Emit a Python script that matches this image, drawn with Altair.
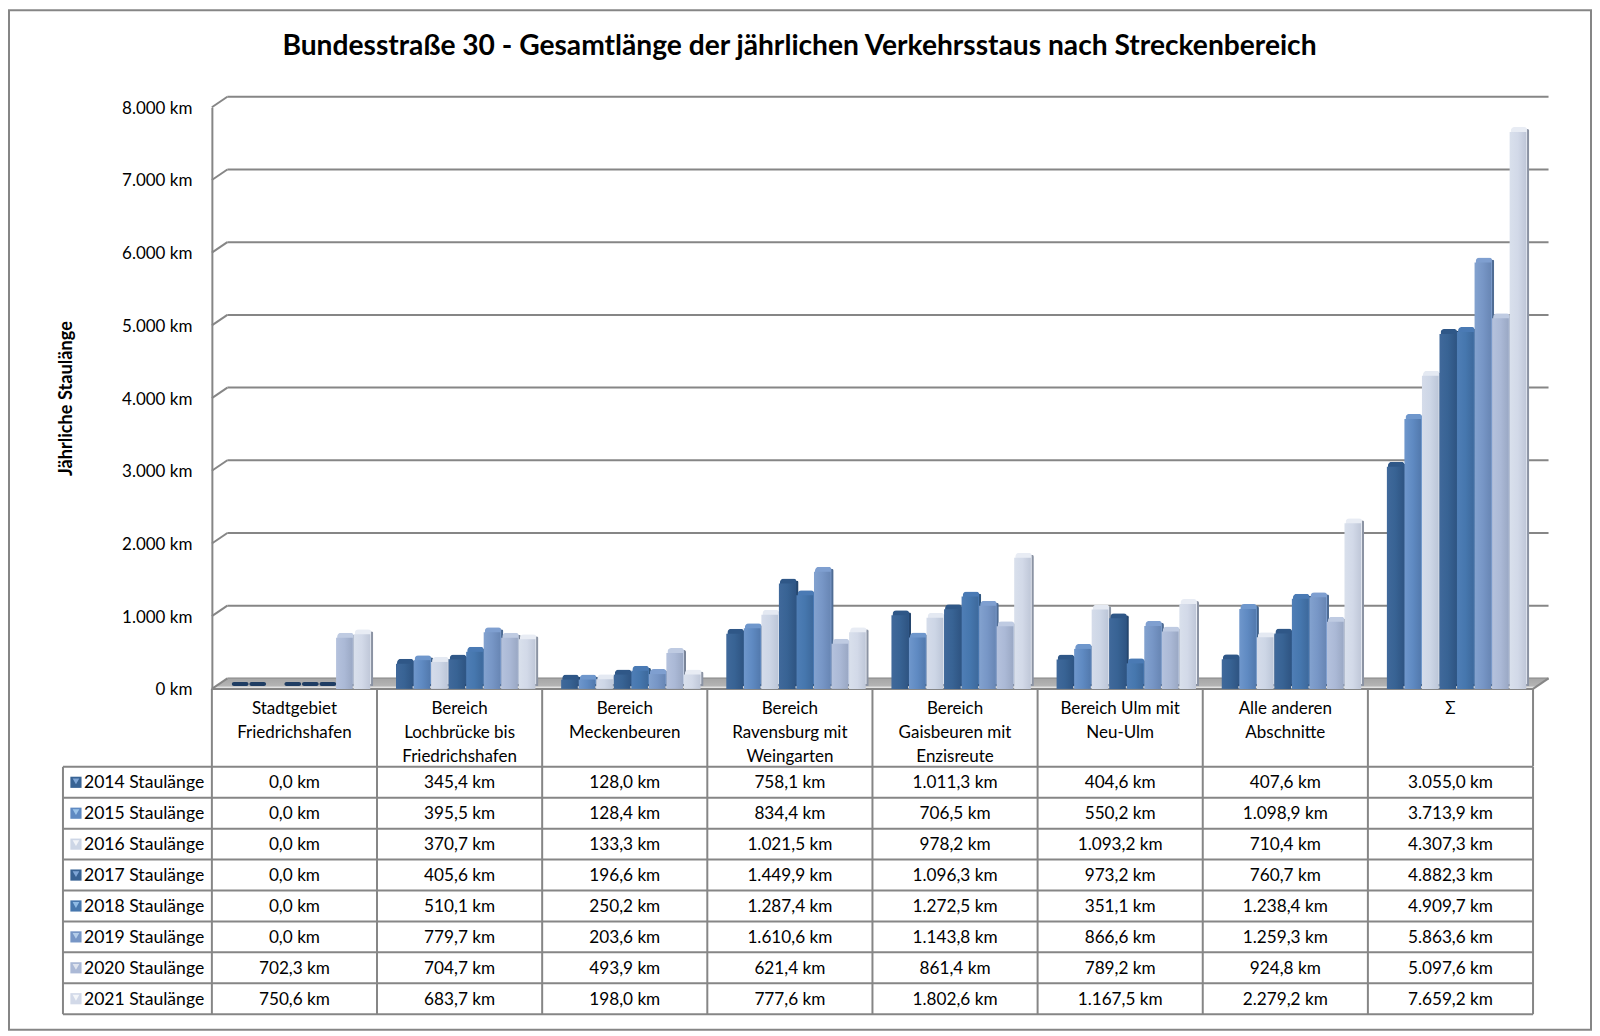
import altair as alt
import pandas as pd

TITLE = "Bundesstraße 30 - Gesamtlänge der jährlichen Verkehrsstaus nach Streckenbereich"
Y_TITLE = "Jährliche Staulänge"
FONT = "Lato"
LINE = "#868686"

categories = [
    "Stadtgebiet\nFriedrichshafen",
    "Bereich\nLochbrücke bis\nFriedrichshafen",
    "Bereich\nMeckenbeuren",
    "Bereich\nRavensburg mit\nWeingarten",
    "Bereich\nGaisbeuren mit\nEnzisreute",
    "Bereich Ulm mit\nNeu-Ulm",
    "Alle anderen\nAbschnitte",
    "Σ",
]
years = ["2014", "2015", "2016", "2017", "2018", "2019", "2020", "2021"]

v2014 = [0.0, 345.4, 128.0, 758.1, 1011.3, 404.6, 407.6, 3055.0]
v2015 = [0.0, 395.5, 128.4, 834.4, 706.5, 550.2, 1098.9, 3713.9]
v2016 = [0.0, 370.7, 133.3, 1021.5, 978.2, 1093.2, 710.4, 4307.3]
v2017 = [0.0, 405.6, 196.6, 1449.9, 1096.3, 973.2, 760.7, 4882.3]
v2018 = [0.0, 510.1, 250.2, 1287.4, 1272.5, 351.1, 1238.4, 4909.7]
v2019 = [0.0, 779.7, 203.6, 1610.6, 1143.8, 866.6, 1259.3, 5863.6]
v2020 = [702.3, 704.7, 493.9, 621.4, 861.4, 789.2, 924.8, 5097.6]
v2021 = [750.6, 683.7, 198.0, 777.6, 1802.6, 1167.5, 2279.2, 7659.2]
series = [v2014, v2015, v2016, v2017, v2018, v2019, v2020, v2021]

front_left = ["#40699b", "#6f97cc", "#d5dcea", "#40699b", "#4f7eb6", "#83a2cf", "#b5c2dd", "#d9e0ec"]
front_mid = ["#386394", "#5f8ac2", "#cdd6e6", "#386394", "#4677ae", "#7796c6", "#abb9d6", "#d2d9e8"]
front_right = ["#2f5583", "#5279ad", "#bcc6d8", "#2f5583", "#3d699c", "#6886b4", "#9aa8c4", "#bfc7d8"]
side = ["#25466e", "#3f6089", "#8e98a8", "#25466e", "#305780", "#4f6c94", "#7a8599", "#8b93a3"]
cap = ["#2f5787", "#6f97cc", "#e4e9f2", "#2f5787", "#4a7ab4", "#7f9fd0", "#bfcbe2", "#e8ecf4"]
key_light = ["#7fa6d6", "#9cc4ea", "#f2f4f8", "#7fa6d6", "#8fbbe6", "#b4cdea", "#dfe4ee", "#f4f6f9"]

rows = []
for y, vals in zip(years, series):
    for c, v in zip(categories, vals):
        rows.append({"cat": c, "year": y, "value": v})
df = pd.DataFrame(rows)
df["txt"] = [f"{v:,.1f} km".replace(",", "X").replace(".", ",").replace("X", ".") for v in df["value"]]

W, H = 1322, 582
DX, DY = 15.5, 10.5
LEFT = -203
ticks = [0, 1000, 2000, 3000, 4000, 5000, 6000, 7000, 8000]
tick_df = pd.DataFrame({"t": ticks})

x_enc = alt.X("cat:N", sort=categories, scale=alt.Scale(domain=categories, paddingInner=0, paddingOuter=0), axis=None)


def off_enc(dx):
    return alt.XOffset("year:N", scale=alt.Scale(domain=years, range=[19 + dx, 158.5 + dx], paddingInner=0.05, paddingOuter=0))


def y_shift(dy):
    return alt.Y("value:Q", scale=alt.Scale(domain=[0, 8000], nice=False, range=[H + dy, dy]), axis=None)


y_scale = alt.Scale(domain=[0, 8000], nice=False)

frame = alt.Chart(pd.DataFrame({"a": [0]})).mark_rect(fillOpacity=0, stroke=LINE, strokeWidth=2).encode(
    x=alt.value(LEFT), x2=alt.value(LEFT + 1583), y=alt.value(-97), y2=alt.value(923)
)

axis_layer = alt.Chart(tick_df).mark_rule(opacity=0).encode(
    y=alt.Y(
        "t:Q",
        scale=y_scale,
        axis=alt.Axis(
            values=ticks,
            labelExpr="replace(format(datum.value, ',d'), ',', '.') + ' km'",
            labelFont=FONT, labelFontSize=17, labelColor="#000000", labelPadding=20, labelOffset=1,
            tickSize=0, domainColor=LINE, domainWidth=2, grid=False,
            title=Y_TITLE, titleFont=FONT, titleFontSize=18.2, titleFontWeight="bold",
            titleColor="#000000", titlePadding=46,
        ),
    )
)

back_grid = alt.Chart(tick_df).mark_rule(color=LINE, strokeWidth=2, yOffset=-DY).encode(
    y=alt.Y("t:Q", scale=y_scale, axis=None), x=alt.value(DX), x2=alt.value(W + DX)
)
diag = alt.Chart(tick_df).mark_rule(color=LINE, strokeWidth=2, y2Offset=-DY).encode(
    y=alt.Y("t:Q", scale=y_scale, axis=None), y2="t:Q", x=alt.value(0), x2=alt.value(DX)
)
right_diag = alt.Chart(tick_df.head(1)).mark_rule(color=LINE, strokeWidth=2, y2Offset=-DY).encode(
    y=alt.Y("t:Q", scale=y_scale, axis=None), y2="t:Q", x=alt.value(W), x2=alt.value(W + DX)
)
front_edge = alt.Chart(tick_df.head(1)).mark_rule(color=LINE, strokeWidth=2).encode(
    y=alt.Y("t:Q", scale=y_scale, axis=None), x=alt.value(0), x2=alt.value(W)
)

floor_df = pd.DataFrame({
    "px": [0, DX, W, W + DX],
    "top": [H, H - DY, H - DY, H - DY],
    "bot": [H, H, H, H - DY],
})
floor = alt.Chart(floor_df).mark_area(
    color=alt.Gradient(gradient="linear", x1=0, y1=0, x2=0, y2=1,
                       stops=[alt.GradientStop(color="#a6a6a6", offset=0),
                              alt.GradientStop(color="#b4b4b4", offset=0.7),
                              alt.GradientStop(color="#e2e2e2", offset=0.85),
                              alt.GradientStop(color="#e2e2e2", offset=1)])
).encode(
    x=alt.X("px:Q", scale=None, axis=None),
    y=alt.Y("top:Q", scale=None, axis=None),
    y2="bot:Q",
)

layers = [frame, back_grid, floor, diag, right_diag, front_edge]

zero_caps = alt.Chart(df).transform_filter(
    (alt.datum.value == 0) & (alt.datum.year != "2016")
).mark_bar(
    color="#1f3d63", cornerRadiusTopLeft=2.5, cornerRadiusTopRight=2.5,
    cornerRadiusBottomLeft=2.5, cornerRadiusBottomRight=2.5,
).encode(x=x_enc, xOffset=off_enc(1), y=alt.value(H - 7), y2=alt.value(H - 3))
layers.append(zero_caps)

for i, yr in enumerate(years):
    base = alt.Chart(df).transform_filter(alt.datum.year == yr).transform_filter(alt.datum.value > 0)
    layers.append(base.mark_bar(color=side[i], cornerRadiusTopRight=2).encode(
        x=x_enc, xOffset=off_enc(3), y=y_shift(-3), y2=alt.value(H - 1)))
    layers.append(base.mark_bar(color=cap[i], cornerRadiusTopLeft=4, cornerRadiusTopRight=3).encode(
        x=x_enc, xOffset=off_enc(1), y=y_shift(-5), y2=alt.value(H - 3)))
    layers.append(base.mark_bar(
        color=alt.Gradient(gradient="linear", x1=0, y1=0, x2=1, y2=0,
                           stops=[alt.GradientStop(color=front_left[i], offset=0),
                                  alt.GradientStop(color=front_mid[i], offset=0.5),
                                  alt.GradientStop(color=front_right[i], offset=1)]),
    ).encode(x=x_enc, xOffset=off_enc(0), y=y_shift(0), y2=alt.value(H - 3)))

title_mark = alt.Chart(pd.DataFrame({"t": [TITLE]})).mark_text(
    font=FONT, fontSize=28.2, fontWeight="bold", color="#000000", align="center", baseline="middle"
).encode(text="t:N", x=alt.value(588), y=alt.value(-60))

top = alt.layer(*layers, axis_layer, title_mark).resolve_scale(
    x="independent", y="independent", xOffset="independent"
).properties(width=W, height=H)

x_rule = alt.X("cat:N", sort=categories, scale=alt.Scale(domain=categories, paddingInner=0, paddingOuter=0), axis=None, bandPosition=0)
cat_df = pd.DataFrame({"cat": categories})
H_HEAD = 77.5
head_rules = alt.Chart(cat_df).mark_rule(color=LINE, strokeWidth=2).encode(x=x_rule)
head_end = alt.Chart(cat_df.head(1)).mark_rule(color=LINE, strokeWidth=2).encode(x=alt.value(W))
head_text = alt.Chart(cat_df).mark_text(
    font=FONT, fontSize=17, color="#000000", baseline="middle", lineHeight=24, align="center"
).transform_calculate(lines="split(datum.cat, '\\n')").encode(
    x=x_enc, y=alt.value(20.5), text="lines:N"
)
header = alt.layer(head_rules, head_end, head_text).properties(width=W, height=H_HEAD)

H_TAB = 247.5
y_row = alt.Y("year:N", sort=years, scale=alt.Scale(domain=years, paddingInner=0, paddingOuter=0), axis=None)
y_line = alt.Y("year:N", sort=years, scale=alt.Scale(domain=years, paddingInner=0, paddingOuter=0), axis=None, bandPosition=0)
year_df = pd.DataFrame({
    "year": years,
    "label": [y + " Staulänge" for y in years],
    "dark": front_mid,
    "light": key_light,
})

h_lines = alt.Chart(year_df).mark_rule(color=LINE, strokeWidth=2).encode(y=y_line, x=alt.value(-149), x2=alt.value(W))
h_end = alt.Chart(year_df.head(1)).mark_rule(color=LINE, strokeWidth=2).encode(y=alt.value(H_TAB), x=alt.value(-149), x2=alt.value(W))
v_lines = alt.Chart(cat_df).mark_rule(color=LINE, strokeWidth=2).encode(x=x_rule)
v_end = alt.Chart(cat_df.head(1)).mark_rule(color=LINE, strokeWidth=2).encode(x=alt.value(W))
v_left = alt.Chart(cat_df.head(1)).mark_rule(color=LINE, strokeWidth=2).encode(x=alt.value(-149))
cells = alt.Chart(df).mark_text(font=FONT, fontSize=17.2, color="#000000", baseline="middle", dy=1).encode(
    x=x_enc, y=y_row, text="txt:N"
)
row_labels = alt.Chart(year_df).mark_text(font=FONT, fontSize=17.6, color="#000000", baseline="middle", align="left", dy=1).encode(
    x=alt.value(-128), y=y_row, text="label:N"
)
keys = alt.Chart(year_df).mark_square(size=125, opacity=1).encode(
    x=alt.value(-136), y=y_row, color=alt.Color("dark:N", scale=None)
)
keys2 = alt.Chart(year_df).mark_point(shape="triangle-down", filled=True, size=45, opacity=1, yOffset=-1).encode(
    x=alt.value(-136), y=y_row, color=alt.Color("light:N", scale=None)
)
table = alt.layer(h_lines, h_end, v_lines, v_end, v_left, keys, keys2, row_labels, cells).properties(width=W, height=H_TAB)

chart = (
    alt.vconcat(top, header, table, spacing=0, bounds="flush")
    .properties(background="#ffffff", padding={"left": 0, "top": 1, "right": 0, "bottom": 0})
    .configure_view(stroke=None)
)
chart.save("out.html", embed_options={"renderer": "svg", "actions": False})
